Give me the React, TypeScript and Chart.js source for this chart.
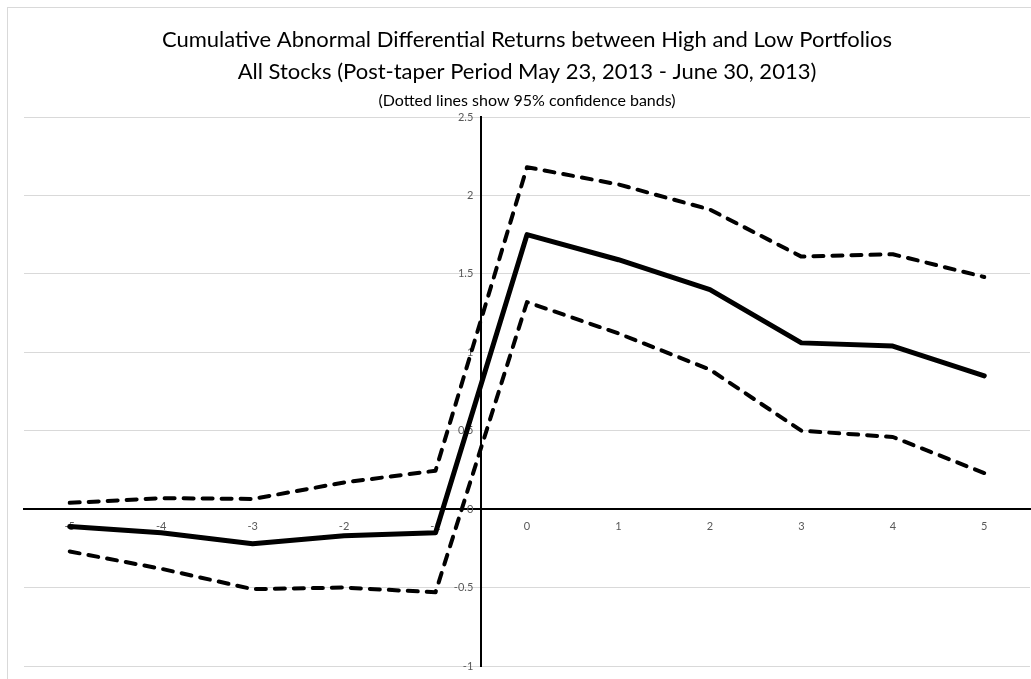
import React, { useEffect, useRef } from "react";
import { Chart, registerables } from "chart.js";

Chart.register(...registerables);

const categories = ["-5", "-4", "-3", "-2", "-1", "0", "1", "2", "3", "4", "5"];
const cumulative = [-0.11, -0.15, -0.22, -0.17, -0.15, 1.75, 1.59, 1.4, 1.06, 1.04, 0.85];
const upperBand = [0.04, 0.07, 0.065, 0.17, 0.245, 2.18, 2.07, 1.91, 1.61, 1.625, 1.48];
const lowerBand = [-0.27, -0.38, -0.51, -0.5, -0.53, 1.32, 1.12, 0.89, 0.5, 0.46, 0.23];

const yMin = -1;
const yMax = 2.5;
const yStep = 0.5;

const titleLines = [
  "Cumulative Abnormal Differential Returns between High and Low Portfolios",
  "All Stocks (Post-taper Period May 23, 2013 - June 30, 2013)",
];
const subtitleText = "(Dotted lines show 95% confidence bands)";

const framePlugin = {
  id: "frame",
  beforeDraw(chart: any) {
    const ctx = chart.ctx;
    ctx.save();
    ctx.fillStyle = "#ffffff";
    ctx.fillRect(0, 0, chart.width, chart.height);
    ctx.strokeStyle = "#d9d9d9";
    ctx.lineWidth = 1;
    ctx.strokeRect(7.5, 7.5, chart.width + 20, chart.height + 20);
    ctx.restore();
  },
};

// Y labels of an axis positioned inside the plot are drawn flush against the
// axis line; move them a little to the left, like the reference.
const yLabelGapPlugin = {
  id: "yLabelGap",
  afterLayout(chart: any) {
    const scale = chart.scales.y;
    if (!scale) return;
    scale._labelItems = null;
    const items = scale.getLabelItems(chart.chartArea);
    items.forEach((it: any) => {
      if (it.options && it.options.translation) {
        it.options.translation = [it.options.translation[0] - 8, it.options.translation[1]];
      }
    });
  },
};

export default function App() {
  const ref = useRef<HTMLCanvasElement | null>(null);

  useEffect(() => {
    if (!ref.current) return;
    const FONT = "Lato, 'Open Sans', sans-serif";
    const chart = new Chart(ref.current, {
      type: "line",
      data: {
        labels: categories,
        datasets: [
          {
            label: "Upper 95% band",
            data: upperBand,
            borderColor: "#000000",
            borderWidth: 4,
            borderDash: [10, 9],
            borderCapStyle: "round",
            borderJoinStyle: "round",
            pointRadius: 0,
            tension: 0,
            fill: false,
          },
          {
            label: "CAR difference",
            data: cumulative,
            borderColor: "#000000",
            borderWidth: 5,
            borderCapStyle: "round",
            borderJoinStyle: "round",
            pointRadius: 0,
            tension: 0,
            fill: false,
          },
          {
            label: "Lower 95% band",
            data: lowerBand,
            borderColor: "#000000",
            borderWidth: 4,
            borderDash: [10, 9],
            borderCapStyle: "round",
            borderJoinStyle: "round",
            pointRadius: 0,
            tension: 0,
            fill: false,
          },
        ],
      },
      options: {
        animation: false,
        responsive: true,
        maintainAspectRatio: false,
        layout: { padding: { left: 24, right: 1, top: 0, bottom: 13 } },
        plugins: {
          legend: { display: false },
          tooltip: { enabled: false },
          title: {
            display: true,
            text: titleLines,
            color: "#000000",
            font: { family: FONT, size: 22, weight: "normal", lineHeight: 1.45 },
            padding: { top: 24, bottom: 0 },
          },
          subtitle: {
            display: true,
            text: subtitleText,
            color: "#000000",
            font: { family: FONT, size: 16, weight: "normal", lineHeight: 1.2 },
            padding: { top: 3, bottom: 7 },
          },
        },
        scales: {
          x: {
            type: "category",
            offset: true,
            position: { y: 0 },
            grid: { display: false, drawTicks: false },
            border: { display: true, color: "#000000", width: 2 },
            ticks: {
              color: "#595959",
              font: { family: FONT, size: 11 },
              padding: 11,
              maxRotation: 0,
              autoSkip: false,
            },
          },
          y: {
            type: "linear",
            min: yMin,
            max: yMax,
            position: { x: 4.5 },
            grid: {
              drawTicks: false,
              color: (c: any) => (c.tick && c.tick.value === 0 ? "rgba(0,0,0,0)" : "#d9d9d9"),
              lineWidth: 1,
            },
            border: { display: true, color: "#000000", width: 2 },
            ticks: {
              stepSize: yStep,
              color: "#595959",
              font: { family: FONT, size: 11 },
              callback: (v: any) => String(Number(v)),
            },
          },
        },
      },
      plugins: [framePlugin, yLabelGapPlugin],
    });
    return () => chart.destroy();
  }, []);

  return (
    <div style={{ position: "absolute", left: 0, top: 0, width: 1031, height: 679 }}>
      <canvas ref={ref} />
    </div>
  );
}
